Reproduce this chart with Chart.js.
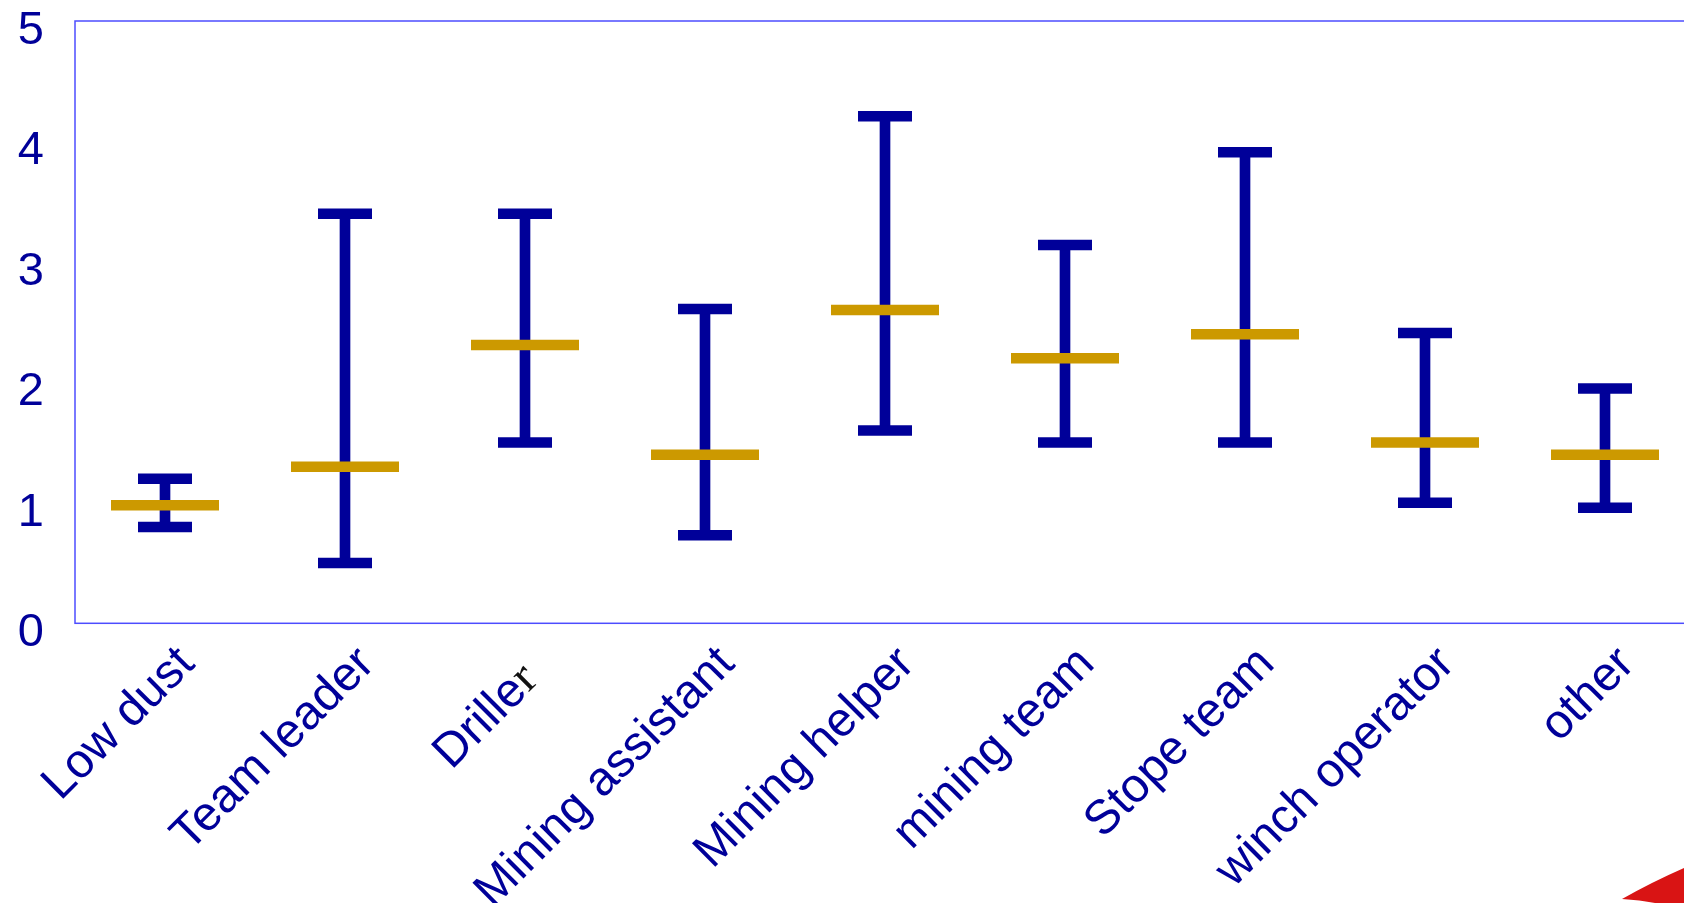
<!DOCTYPE html>
<html>
<head>
<meta charset="utf-8">
<title>Exposure by job category</title>
<script src="https://cdn.jsdelivr.net/npm/chart.js@4.4.1/dist/chart.umd.min.js"></script>
<style>
  html, body { margin: 0; padding: 0; background: #ffffff; overflow: hidden; }
  #wrap { position: relative; width: 1700px; height: 903px; }
</style>
</head>
<body>
<div id="wrap"><canvas id="chart"></canvas></div>
<script>
// Job categories along the x axis
const categories = ['Low dust', 'Team leader', 'Driller', 'Mining assistant', 'Mining helper',
                    'mining team', 'Stope team', 'winch operator', 'other'];
// Upper and lower ends of each range, and the mean marker
const upperValues = [1.20, 3.40, 3.40, 2.61, 4.21, 3.14, 3.91, 2.41, 1.95];
const lowerValues = [0.80, 0.50, 1.50, 0.73, 1.60, 1.50, 1.50, 1.00, 0.96];
const meanValues  = [0.98, 1.30, 2.31, 1.40, 2.60, 2.20, 2.40, 1.50, 1.40];
// Value-axis tick labels
const yTickLabels = ['0', '1', '2', '3', '4', '5'];

const BLUE = '#000099';
const GOLD = '#cc9900';
const SANS = '"Liberation Sans", Arial, sans-serif';

// Box round the plot area
const framePlugin = {
  id: 'frame',
  beforeDatasetsDraw(chart) {
    const { ctx, chartArea: a } = chart;
    ctx.save();
    ctx.strokeStyle = '#4d4dff';
    ctx.lineWidth = 1.5;
    ctx.strokeRect(a.left, a.top, a.right - a.left, a.bottom - a.top);
    ctx.restore();
  }
};

// Rotated category labels, right end anchored near each category
const xLabelPlugin = {
  id: 'xLabels',
  afterDraw(chart) {
    const { ctx, scales: { x }, chartArea } = chart;
    const size = 48;
    categories.forEach((name, i) => {
      ctx.save();
      ctx.translate(x.getPixelForValue(i) + 22, chartArea.bottom + 33);
      ctx.rotate(-Math.PI / 4);
      ctx.textBaseline = 'middle';
      ctx.textAlign = 'right';
      if (name === 'Driller') {
        // last letter set in a serif face, with a little trailing space
        const tail = name.slice(-1);
        const head = name.slice(0, -1);
        let end = -23;
        ctx.font = size + 'px "Liberation Serif", "Times New Roman", serif';
        ctx.fillStyle = '#111111';
        ctx.fillText(tail, end, 0);
        end -= ctx.measureText(tail).width;
        ctx.font = size + 'px ' + SANS;
        ctx.fillStyle = BLUE;
        ctx.fillText(head, end, 0);
      } else {
        ctx.font = size + 'px ' + SANS;
        ctx.fillStyle = BLUE;
        ctx.fillText(name, 0, 0);
      }
      ctx.restore();
    });
  }
};

// Red swoosh in the lower right corner
const cornerPlugin = {
  id: 'corner',
  afterDraw(chart) {
    const { ctx } = chart;
    ctx.save();
    ctx.fillStyle = '#d91414';
    ctx.beginPath();
    ctx.moveTo(1622, 899);
    ctx.quadraticCurveTo(1652, 882, 1684, 868);
    ctx.lineTo(1684, 903);
    ctx.lineTo(1655, 903);
    ctx.quadraticCurveTo(1640, 900, 1622, 899);
    ctx.fill();
    ctx.restore();
  }
};

// Fixed axis sizes with no extra label padding, so the plot box spans
// x 75..1695 and y 21..623.3 on the canvas
function fixBox(scale, size) {
  if (scale.isHorizontal()) { scale.height = size; } else { scale.width = size; }
  scale.paddingLeft = 0;
  scale.paddingRight = 0;
  scale.paddingTop = 0;
  scale.paddingBottom = 0;
}

new Chart(document.getElementById('chart'), {
  type: 'bar',
  data: {
    labels: categories,
    datasets: [
      {
        type: 'line', label: 'Mean', data: meanValues, showLine: false,
        pointStyle: 'line', pointRadius: 54, pointBorderWidth: 10.5,
        borderColor: GOLD, backgroundColor: GOLD, order: 0
      },
      {
        type: 'line', label: 'Upper', data: upperValues, showLine: false,
        pointStyle: 'line', pointRadius: 27, pointBorderWidth: 10.5,
        borderColor: BLUE, backgroundColor: BLUE, order: 1
      },
      {
        type: 'line', label: 'Lower', data: lowerValues, showLine: false,
        pointStyle: 'line', pointRadius: 27, pointBorderWidth: 10.5,
        borderColor: BLUE, backgroundColor: BLUE, order: 1
      },
      {
        type: 'bar', label: 'Range',
        data: categories.map((_, i) => [lowerValues[i], upperValues[i]]),
        backgroundColor: BLUE, barThickness: 10, order: 2
      }
    ]
  },
  options: {
    responsive: true,
    maintainAspectRatio: false,
    animation: false,
    events: [],
    layout: { autoPadding: false, padding: { top: 21, right: 5, left: 0, bottom: 0 } },
    plugins: { legend: { display: false }, tooltip: { enabled: false } },
    scales: {
      x: {
        grid: { display: false, drawTicks: false },
        border: { display: false },
        ticks: { display: false },
        afterFit(scale) { fixBox(scale, 903 - 623.3); }
      },
      y: {
        min: 0, max: 5,
        grid: { display: false, drawTicks: false },
        border: { display: false },
        ticks: {
          stepSize: 1,
          color: BLUE,
          font: { family: SANS, size: 47 },
          padding: 31,
          labelOffset: 10,
          callback: (v) => yTickLabels[v]
        },
        afterFit(scale) { fixBox(scale, 75); }
      }
    }
  },
  plugins: [framePlugin, xLabelPlugin, cornerPlugin]
});
</script>
</body>
</html>
